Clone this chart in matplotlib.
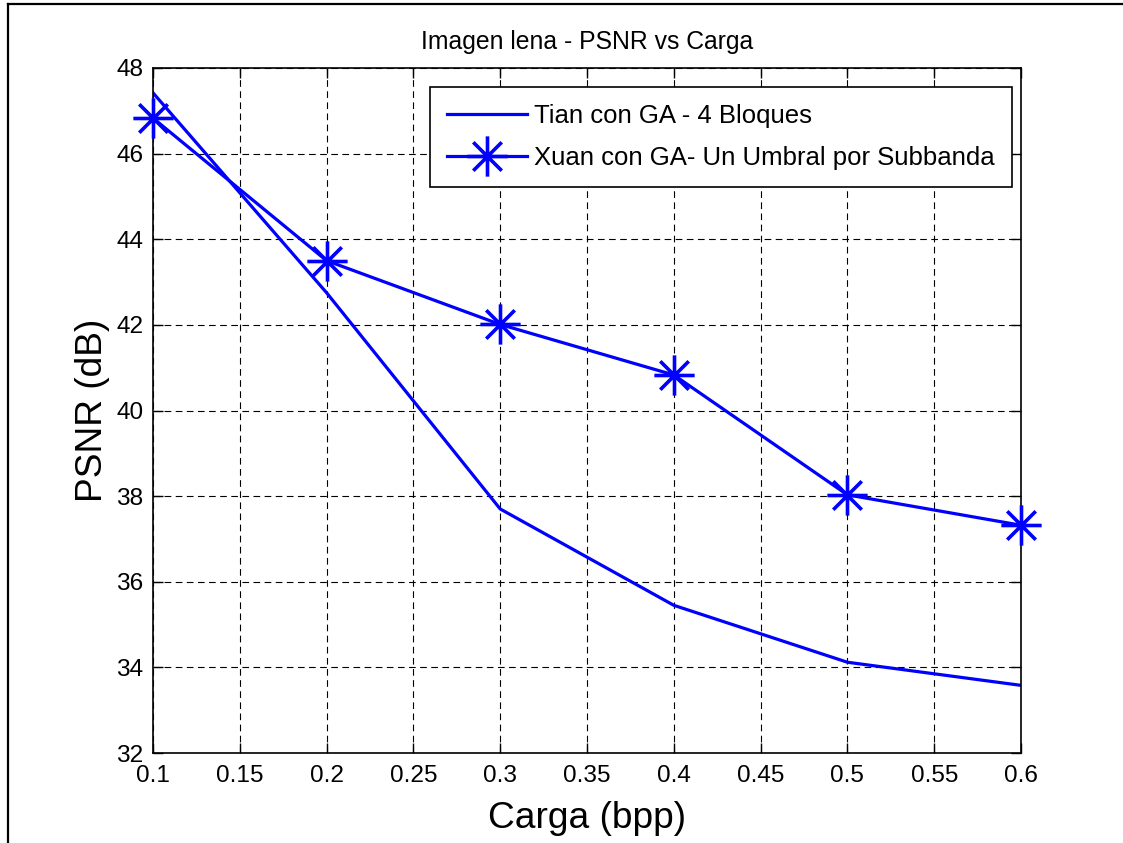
import matplotlib
matplotlib.use("Agg")
import matplotlib.pyplot as plt
from matplotlib.path import Path
from matplotlib.lines import Line2D
import numpy as np

# Data
carga = [0.1, 0.2, 0.3, 0.4, 0.5, 0.6]
tian = [47.42, 42.75, 37.70, 35.45, 34.12, 33.58]
xuan = [46.83, 43.50, 42.01, 40.83, 38.03, 37.32]
series_labels = ["Tian con GA - 4 Bloques", "Xuan con GA- Un Umbral por Subbanda"]
xticks = [0.1, 0.15, 0.2, 0.25, 0.3, 0.35, 0.4, 0.45, 0.5, 0.55, 0.6]
xticklabels = ["0.1", "0.15", "0.2", "0.25", "0.3", "0.35", "0.4", "0.45", "0.5", "0.55", "0.6"]
yticks = [32, 34, 36, 38, 40, 42, 44, 46, 48]
yticklabels = [str(v) for v in yticks]

plt.rcParams['font.family'] = ['Liberation Sans', 'DejaVu Sans']

fig = plt.figure(figsize=(11.23, 8.43), dpi=100)
W, H = 1123, 843
ax = fig.add_axes([153 / W, 1 - 753 / H, (1021 - 153) / W, (753 - 68) / H])

# MATLAB style asterisk marker
d = 0.707
verts = [(0, -1), (0, 1), (-1, 0), (1, 0), (-d, -d), (d, d), (-d, d), (d, -d)]
codes = [Path.MOVETO, Path.LINETO] * 4
star = Path(verts, codes)

blue = (0, 0, 1)
ax.plot(carga, tian, color=blue, lw=2.3, label=series_labels[0])
ax.plot(carga, xuan, color=blue, lw=2.3, marker=star, markersize=29,
        markeredgewidth=2.6, markeredgecolor=blue, markerfacecolor='none',
        label=series_labels[1], clip_on=False, zorder=5)

ax.set_xlim(0.1, 0.6)
ax.set_ylim(32, 48)
ax.set_xticks(xticks)
ax.set_xticklabels(xticklabels)
ax.set_yticks(yticks)
ax.set_yticklabels(yticklabels)
ax.tick_params(axis='both', direction='in', length=7, width=1, top=True, right=True,
               labelsize=17.6, colors='black')
ax.tick_params(axis='x', pad=9)
ax.tick_params(axis='y', pad=7)
ax.grid(True, color='black', linestyle=(0, (6, 4)), linewidth=0.8)
ax.set_axisbelow(True)
for s in ax.spines.values():
    s.set_linewidth(1.2)
    s.set_color('black')

ax.set_title("Imagen lena - PSNR vs Carga", fontsize=17.8, pad=14)
ax.set_xlabel("Carga (bpp)", fontsize=26.7, labelpad=10)
ax.set_ylabel("PSNR (dB)", fontsize=26.7, labelpad=4)

leg = ax.legend(loc='upper right', bbox_to_anchor=(1012 / W, 1 - 87 / H),
                bbox_transform=fig.transFigure, fontsize=18.5, frameon=True,
                fancybox=False, edgecolor='black', framealpha=1, handlelength=3.1,
                handletextpad=0.3, labelspacing=0.72, borderpad=0.66,
                borderaxespad=0, numpoints=1)
leg.get_frame().set_linewidth(1.2)
leg.set_zorder(10)

# figure border (left and top edges visible)
fig.add_artist(Line2D([7.5 / W, 7.5 / W], [0, 1 - 4 / H], color='black', lw=1.6,
                      transform=fig.transFigure))
fig.add_artist(Line2D([7.5 / W, 1], [1 - 4 / H, 1 - 4 / H], color='black', lw=1.6,
                      transform=fig.transFigure))

fig.savefig("out.png", dpi=100)
